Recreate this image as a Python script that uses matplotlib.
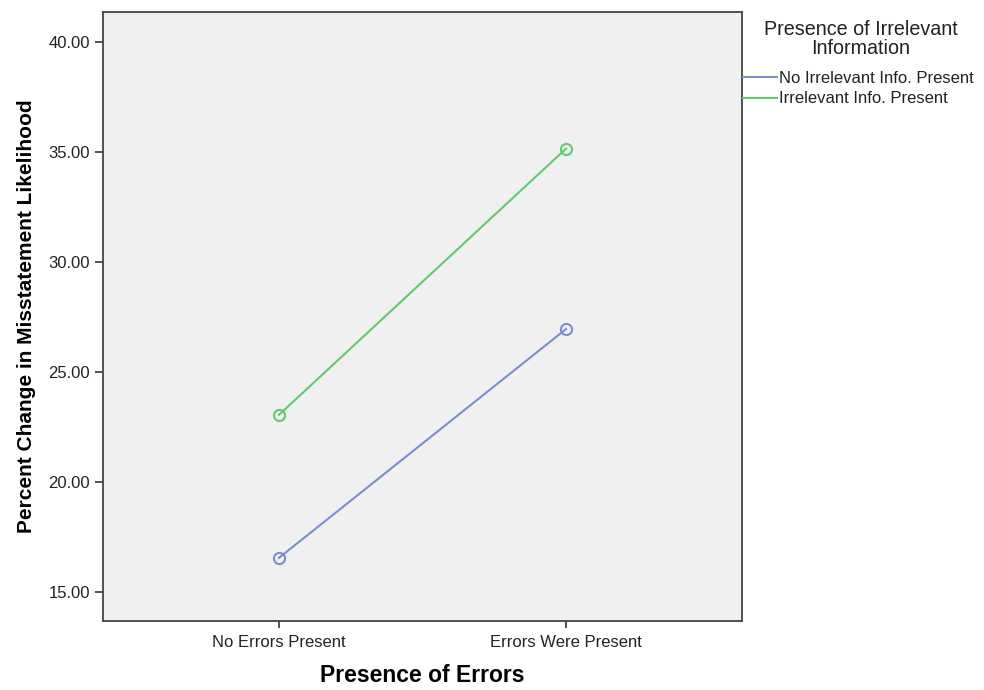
import matplotlib
matplotlib.use("Agg")
import matplotlib.pyplot as plt
from matplotlib.ticker import FormatStrFormatter

plt.rcParams['font.family'] = ['Liberation Sans', 'DejaVu Sans']

categories = ["No Errors Present", "Errors Were Present"]
no_irrelevant = [16.55, 26.95]
irrelevant = [23.05, 35.15]
series_names = ["No Irrelevant Info. Present", "Irrelevant Info. Present"]
legend_title = "Presence of Irrelevant\nInformation"
yticks = [15, 20, 25, 30, 35, 40]

blue = "#7b8ed0"
green = "#63c96e"

fig = plt.figure(figsize=(9.84, 6.90), dpi=100)
ax = fig.add_axes([103/984, 69/690, 639/984, 609/690])
ax.set_facecolor("#f0f0f0")

x = list(range(len(categories)))
ax.plot(x, no_irrelevant, color=blue, lw=1.5, marker='o', ms=8,
        mfc='none', mec=blue, mew=1.5)
ax.plot(x, irrelevant, color=green, lw=1.5, marker='o', ms=8,
        mfc='none', mec=green, mew=1.5)

ax.set_xlim(-0.613, 1.613)
ax.set_ylim(13.68, 41.36)
ax.set_xticks(x)
ax.set_xticklabels(categories, fontsize=12, color="#222222")
ax.set_yticks(yticks)
ax.yaxis.set_major_formatter(FormatStrFormatter('%.2f'))
ax.tick_params(axis='y', labelsize=12, labelcolor="#222222", length=6, width=1.2, color="#333333")
ax.tick_params(axis='x', length=5, width=1.2, color="#333333", pad=5)
for s in ax.spines.values():
    s.set_color("#444444")
    s.set_linewidth(1.3)

ax.set_xlabel("Presence of Errors", fontsize=16.5, fontweight='bold', labelpad=10)
ax.set_ylabel("Percent Change in Misstatement Likelihood", fontsize=15, fontweight='bold', labelpad=9)

fig.text(861/984, 1 - 39/690, legend_title, ha='center', va='center',
         fontsize=14.2, color="#222222", linespacing=1.0)

handles = [plt.Line2D([], [], color=blue, lw=1.5), plt.Line2D([], [], color=green, lw=1.5)]
fig.legend(handles, series_names, loc='upper left', bbox_to_anchor=(743/984, 1 - 71/690),
           frameon=False, fontsize=12, handlelength=2.05, handletextpad=0.12,
           borderaxespad=0, borderpad=0, labelspacing=0.32, labelcolor="#222222")

fig.savefig("out.png", dpi=100)
